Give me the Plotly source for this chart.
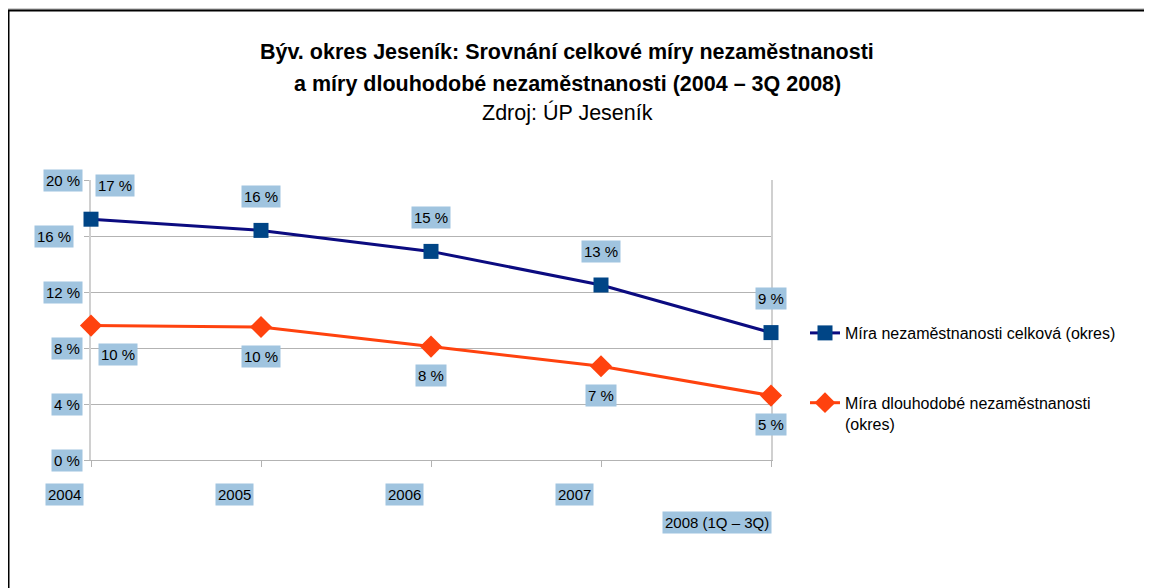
import plotly.graph_objects as go

# ---- data ----
categories = ["2004", "2005", "2006", "2007", "2008 (1Q – 3Q)"]
total_rate = [17.2, 16.4, 14.9, 12.5, 9.1]          # Míra nezaměstnanosti celková (okres)
longterm_rate = [9.6, 9.5, 8.1, 6.7, 4.6]          # Míra dlouhodobé nezaměstnanosti (okres)
total_labels = ["17 %", "16 %", "15 %", "13 %", "9 %"]
longterm_labels = ["10 %", "10 %", "8 %", "7 %", "5 %"]
y_ticks = [0, 4, 8, 12, 16, 20]
y_tick_labels = ["0 %", "4 %", "8 %", "12 %", "16 %", "20 %"]
series_names = ["Míra nezaměstnanosti celková (okres)",
                "Míra dlouhodobé nezaměstnanosti<br>(okres)"]
title_lines = ["<b>Býv. okres Jeseník: Srovnání celkové míry nezaměstnanosti</b>",
               "<b>a míry dlouhodobé nezaměstnanosti (2004 – 3Q 2008)</b>",
               "Zdroj: ÚP Jeseník"]

# ---- layout geometry (screen pixels; page body has an 8px margin) ----
OFF = 8
W, H = 1152 - OFF, 588 - OFF
L, R, T, B = 91, 771, 180, 460
PW, PH = R - L, B - T


def px(xp):
    return (xp - L) / PW


def py(yp):
    return (B - yp) / PH


FONT = "Liberation Sans, Arial, sans-serif"
LABEL_BG = "#a0c4df"
BLUE_LINE = "#0b0b80"
BLUE_MARK = "#004586"
ORANGE = "#ff420e"
FS = 15

fig = go.Figure()
fig.add_trace(go.Scatter(
    x=categories, y=total_rate, name=series_names[0], mode="lines+markers",
    line=dict(color=BLUE_LINE, width=3),
    marker=dict(symbol="square", size=15, color=BLUE_MARK),
    legendgroup="a", cliponaxis=False))
fig.add_trace(go.Scatter(
    x=categories, y=longterm_rate, name=series_names[1], mode="lines+markers",
    line=dict(color=ORANGE, width=3),
    marker=dict(symbol="diamond", size=17, color=ORANGE),
    legendgroup="b", cliponaxis=False))

ann = []
# title lines
for txt, yp in zip(title_lines, [52, 84, 113]):
    ann.append(dict(text=txt, x=px(567), y=py(yp), xref="paper", yref="paper",
                    xanchor="center", yanchor="middle", showarrow=False,
                    font=dict(family=FONT, size=21.5, color="#000")))

# y tick labels with background
for v, t in zip(y_ticks, y_tick_labels):
    shift = -17 if v == 16 else -8
    ann.append(dict(text=t, x=0, y=v, xref="paper", yref="y", xanchor="right",
                    yanchor="middle", xshift=shift, showarrow=False,
                    bgcolor=LABEL_BG, borderpad=2,
                    font=dict(family=FONT, size=FS, color="#000")))

# x category labels with background (x given as category index)
for i, c in enumerate(categories):
    last = i == len(categories) - 1
    ann.append(dict(text=c, x=i, y=py(522 if last else 494), xref="x", yref="paper",
                    xanchor="center", yanchor="middle", xshift=-54 if last else -27,
                    showarrow=False, bgcolor=LABEL_BG, borderpad=2,
                    font=dict(family=FONT, size=FS, color="#000")))

# data labels
for i in range(len(categories)):
    ann.append(dict(text=total_labels[i], x=i, y=total_rate[i], xref="x", yref="y",
                    yshift=34, xshift=24 if i == 0 else 0, showarrow=False,
                    bgcolor=LABEL_BG, borderpad=2,
                    font=dict(family=FONT, size=FS, color="#000")))
    ann.append(dict(text=longterm_labels[i], x=i, y=longterm_rate[i], xref="x", yref="y",
                    yshift=-29, xshift=27 if i == 0 else 0, showarrow=False,
                    bgcolor=LABEL_BG, borderpad=2,
                    font=dict(family=FONT, size=FS, color="#000")))

shapes = [
    dict(type="line", xref="paper", yref="paper", x0=px(OFF), x1=px(1152), y0=py(9), y1=py(9),
         line=dict(color="#a0a0a0", width=1)),
    dict(type="line", xref="paper", yref="paper", x0=px(OFF), x1=px(1152), y0=py(10.5), y1=py(10.5),
         line=dict(color="#000", width=2)),
    dict(type="line", xref="paper", yref="paper", x0=px(OFF + 0.5), x1=px(OFF + 0.5),
         y0=py(10), y1=py(588), line=dict(color="#000", width=2)),
]

fig.update_layout(
    width=W, height=H,
    margin=dict(l=L - OFF, r=(W + OFF) - R, t=T - OFF, b=(H + OFF) - B, pad=0),
    paper_bgcolor="white", plot_bgcolor="white",
    font=dict(family=FONT, size=FS, color="#000"),
    showlegend=True,
    legend=dict(x=px(805), y=py(316), xanchor="left", yanchor="top",
                font=dict(family=FONT, size=16, color="#000"),
                tracegroupgap=46, valign="top", bgcolor="rgba(0,0,0,0)"),
    annotations=ann, shapes=shapes,
    xaxis=dict(type="category", range=[0, 4], showticklabels=False, layer="below traces",
               showgrid=False, zeroline=False, showline=True, linecolor="#b3b3b3",
               linewidth=1, ticks="outside", ticklen=6, tickcolor="#b3b3b3"),
    yaxis=dict(range=[0, 20], tickvals=y_ticks, showticklabels=False, layer="below traces",
               showgrid=True, gridcolor="#b3b3b3", gridwidth=1, zeroline=False,
               showline=True, mirror=True, linecolor="#d0d0d0", linewidth=2,
               ticks="outside", ticklen=5, tickcolor="#b3b3b3"),
)

fig.write_html("out.html")
